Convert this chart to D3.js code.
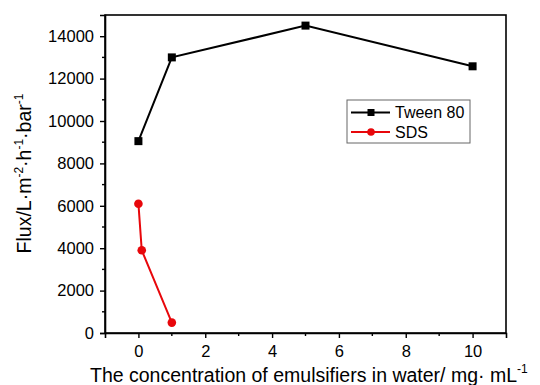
<!DOCTYPE html>
<html><head><meta charset="utf-8">
<script src="https://cdn.jsdelivr.net/npm/d3@7"></script>
<style>
body{margin:0;background:#fff;}
svg{display:block;font-family:Arial,"Liberation Sans",sans-serif;}
</style></head>
<body>
<svg id="chart" width="540" height="385"></svg>
<script>
const tweenX = [0, 1, 5, 10];
const tweenY = [9050, 13000, 14500, 12580];
const sdsX = [0, 0.1, 1];
const sdsY = [6100, 3900, 490];
const seriesNames = ["Tween 80", "SDS"];
const xTicks = [0, 2, 4, 6, 8, 10];
const yTicks = [0, 2000, 4000, 6000, 8000, 10000, 12000, 14000];

const svg = d3.select("#chart");
const L = 105, R = 506, T = 15, B = 333;
const x = d3.scaleLinear().domain([-1, 11]).range([L, R]);
const y = d3.scaleLinear().domain([0, 15000]).range([B, T]);

// frame
svg.append("rect").attr("x", L).attr("y", T).attr("width", R - L).attr("height", B - T)
  .attr("fill", "none").attr("stroke", "#000").attr("stroke-width", 1.6);

// axes
const xAxis = d3.axisBottom(x).tickValues(xTicks).tickSize(5).tickPadding(7).tickFormat(d3.format("d"));
const gx = svg.append("g").attr("transform", `translate(0,${B})`).call(xAxis);
const yAxis = d3.axisLeft(y).tickValues(yTicks).tickSize(5).tickPadding(6).tickFormat(d3.format("d"));
const gy = svg.append("g").attr("transform", `translate(${L},0)`).call(yAxis);
[gx, gy].forEach(g => {
  g.select(".domain").attr("stroke", "#000").attr("stroke-width", 1.6);
  g.selectAll(".tick line").attr("stroke", "#000").attr("stroke-width", 1.4);
  g.selectAll(".tick text").attr("fill", "#000").style("font-size", "16.5px").style("font-family", "Arial, 'Liberation Sans', sans-serif");
});
// minor ticks
const xMinor = d3.range(-1, 12, 2);
svg.append("g").selectAll("line").data(xMinor.filter(v => v > -1 && v < 11)).join("line")
  .attr("x1", d => x(d)).attr("x2", d => x(d)).attr("y1", B).attr("y2", B + 3)
  .attr("stroke", "#000").attr("stroke-width", 1.4);
const yMinor = d3.range(1000, 15000, 2000);
svg.append("g").selectAll("line").data(yMinor).join("line")
  .attr("y1", d => y(d)).attr("y2", d => y(d)).attr("x1", L).attr("x2", L - 3)
  .attr("stroke", "#000").attr("stroke-width", 1.4);

const line = d3.line().x(d => x(d[0])).y(d => y(d[1]));
const tween = tweenX.map((v, i) => [v, tweenY[i]]);
const sds = sdsX.map((v, i) => [v, sdsY[i]]);

svg.append("path").datum(tween).attr("d", line).attr("fill", "none").attr("stroke", "#000").attr("stroke-width", 2);
svg.append("g").selectAll("rect").data(tween).join("rect")
  .attr("x", d => x(d[0]) - 4).attr("y", d => y(d[1]) - 4).attr("width", 8).attr("height", 8).attr("fill", "#000");

svg.append("path").datum(sds).attr("d", line).attr("fill", "none").attr("stroke", "#e8070b").attr("stroke-width", 2);
svg.append("g").selectAll("circle").data(sds).join("circle")
  .attr("cx", d => x(d[0])).attr("cy", d => y(d[1])).attr("r", 4.3).attr("fill", "#e8070b");

// legend
const lg = svg.append("g");
lg.append("rect").attr("x", 347).attr("y", 100).attr("width", 123).attr("height", 43)
  .attr("fill", "#fff").attr("stroke", "#666").attr("stroke-width", 1);
const legendColors = ["#000", "#e8070b"];
seriesNames.forEach((name, i) => {
  const yy = 112.5 + i * 19.5;
  lg.append("line").attr("x1", 351).attr("x2", 390).attr("y1", yy).attr("y2", yy)
    .attr("stroke", legendColors[i]).attr("stroke-width", 2);
  if (i === 0) lg.append("rect").attr("x", 367.5).attr("y", yy - 3.5).attr("width", 7).attr("height", 7).attr("fill", "#000");
  else lg.append("circle").attr("cx", 371).attr("cy", yy).attr("r", 3.8).attr("fill", legendColors[i]);
  lg.append("text").attr("x", 395).attr("y", yy + 5.5).text(name).style("font-size", "16px").attr("fill", "#000");
});

// axis titles
const xt = svg.append("text").attr("x", 90).attr("y", 382).attr("text-anchor", "start")
  .style("font-size", "19.5px").attr("fill", "#000");
xt.append("tspan").text("The concentration of emulsifiers in water/ mg· mL");
xt.append("tspan").attr("dy", -9).style("font-size", "12px").text("-1");

const yt = svg.append("text").attr("transform", `translate(31,173.5) rotate(-90)`)
  .attr("text-anchor", "middle").style("font-size", "19.5px").attr("fill", "#000");
yt.append("tspan").text("Flux/L·m");
yt.append("tspan").attr("dy", -8).style("font-size", "12px").text("-2");
yt.append("tspan").attr("dy", 8).text("·h");
yt.append("tspan").attr("dy", -8).style("font-size", "12px").text("-1");
yt.append("tspan").attr("dy", 8).text("·bar");
yt.append("tspan").attr("dy", -8).style("font-size", "12px").text("-1");
</script>
</body></html>
